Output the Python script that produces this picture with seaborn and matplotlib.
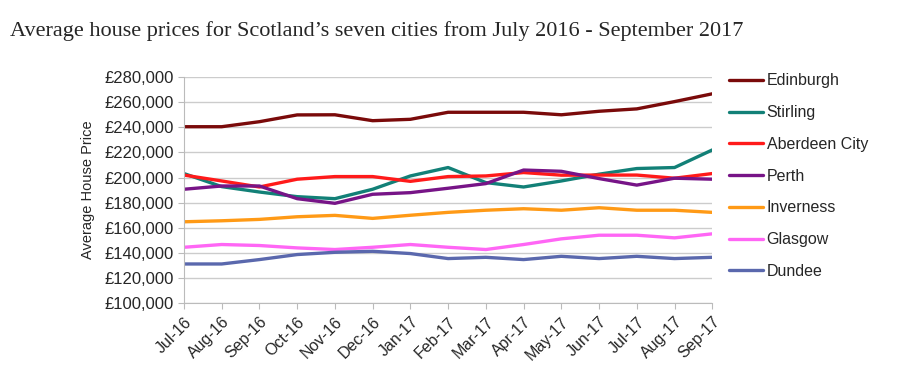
import pandas as pd
import numpy as np
import seaborn as sns
import matplotlib
matplotlib.use("Agg")
import matplotlib.pyplot as plt
from matplotlib.ticker import FuncFormatter

months = ["Jul-16", "Aug-16", "Sep-16", "Oct-16", "Nov-16", "Dec-16", "Jan-17",
          "Feb-17", "Mar-17", "Apr-17", "May-17", "Jun-17", "Jul-17", "Aug-17", "Sep-17"]

edinburgh = [240500, 240500, 244500, 249900, 250000, 245300, 246400, 252000,
             252000, 252000, 250000, 252800, 254700, 260500, 266700]
stirling = [203200, 192800, 188500, 184800, 183200, 190700, 201300, 208000,
            196000, 192500, 197300, 202700, 207200, 208000, 222000]
aberdeen = [202000, 197300, 192500, 198700, 200800, 200800, 197000, 200800,
            201300, 204000, 201900, 202000, 202000, 199500, 203200]
perth = [190700, 193300, 193300, 183200, 179500, 186700, 188000, 191500,
         195200, 206000, 205000, 199200, 194000, 199500, 198700]
inverness = [164800, 165600, 166700, 168800, 169900, 167500, 170000, 172300,
             174000, 175200, 174000, 176000, 174000, 174000, 172300]
glasgow = [144500, 146700, 145900, 144000, 142700, 144500, 146700, 144500,
           142700, 146700, 151200, 154100, 154100, 152000, 155200]
dundee = [131200, 131200, 134700, 138700, 140500, 141300, 139500, 135500,
          136500, 134700, 137300, 135500, 137300, 135500, 136500]

cities = ["Edinburgh", "Stirling", "Aberdeen City", "Perth", "Inverness", "Glasgow", "Dundee"]
series = [edinburgh, stirling, aberdeen, perth, inverness, glasgow, dundee]
colors = ["#7a0a0a", "#128077", "#ff1a1a", "#771487", "#ff9a16", "#ff66f5", "#5a68ad"]

# long table for seaborn
df = pd.concat([pd.DataFrame({"month": months, "price": vals, "city": name})
                for name, vals in zip(cities, series)], ignore_index=True)

sns.set_style("white")
plt.rcParams["font.family"] = ["Liberation Sans", "DejaVu Sans"]

fig = plt.figure(figsize=(9, 3.78), dpi=100)
ax = fig.add_axes([0.2044, 0.198, 0.587, 0.598])

sns.lineplot(data=df, x="month", y="price", hue="city", hue_order=cities,
             palette=dict(zip(cities, colors)), sort=False, linewidth=2.4, ax=ax)

ax.set_ylim(100000, 280000)
ax.set_yticks(np.arange(100000, 280001, 20000))
ax.yaxis.set_major_formatter(FuncFormatter(lambda v, p: "£{:,.0f}".format(v)))
ax.set_xlim(0, len(months) - 1)
ax.set_xticks(range(len(months)))
ax.set_xticklabels(months, rotation=45, ha="right", rotation_mode="anchor")
ax.tick_params(axis="y", labelsize=12, length=4, color="#bbbbbb", pad=3)
ax.tick_params(axis="x", labelsize=11.5, length=4, color="#bbbbbb", pad=4, direction="out")
ax.tick_params(axis="both", which="both", bottom=True, left=True)
ax.grid(axis="y", color="#cccccc", linewidth=1)
ax.set_axisbelow(True)
for s in ["top", "right"]:
    ax.spines[s].set_visible(False)
for s in ["left", "bottom"]:
    ax.spines[s].set_color("#bbbbbb")
ax.set_xlabel("")
ax.set_ylabel("Average House Price", fontsize=10.5, labelpad=7)

ax.legend(loc="upper left", bbox_to_anchor=(1.02, 1.045), frameon=False,
          fontsize=11.5, handlelength=2.1, handletextpad=0.25, labelspacing=1.05,
          borderaxespad=0)

fig.text(0.011, 0.918, "Average house prices for Scotland\u2019s seven cities from July 2016 - September 2017",
         family=["Liberation Serif", "DejaVu Serif"], fontsize=16, va="center", ha="left")

fig.savefig("out.png", dpi=100)
